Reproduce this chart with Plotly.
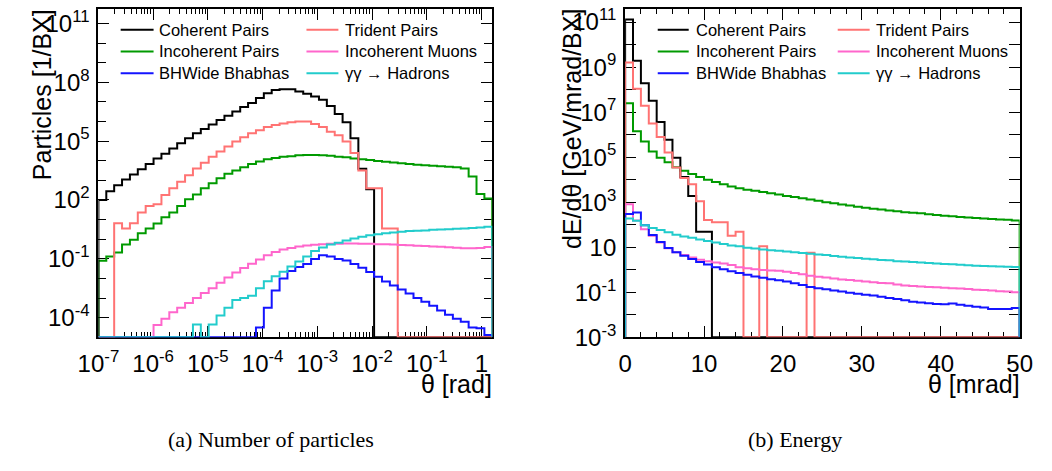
import numpy as np
import plotly.graph_objects as go

# ---------------------------------------------------------------------------
# Binning
# ---------------------------------------------------------------------------
N_BINS = 50
THETA_MIN_RAD = 1e-7
THETA_MAX_RAD = np.pi / 2
THETA_MAX_MRAD = 50.0

edges_rad = np.logspace(np.log10(THETA_MIN_RAD), np.log10(THETA_MAX_RAD), N_BINS + 1)
edges_mrad = np.linspace(0.0, THETA_MAX_MRAD, N_BINS + 1)

# ---------------------------------------------------------------------------
# (a) Number of particles per bunch crossing, per log-theta bin
# ---------------------------------------------------------------------------
n_coherent = [
    1.0e2, 2.8e2, 5.6e2, 1.1e3, 2.0e3, 3.7e3, 6.9e3, 1.3e4, 2.3e4, 4.2e4,
    7.8e4, 1.4e5, 2.5e5, 4.2e5, 7.1e5, 1.2e6, 2.0e6, 3.3e6, 5.5e6, 8.9e6,
    1.6e7, 2.8e7, 4.1e7, 4.5e7, 4.4e7, 3.4e7, 2.6e7, 1.9e7, 1.3e7, 6.2e6,
    2.4e6, 9.3e5, 1.4e5, 3.9e3, 3.5e2, 0, 0, 0, 0, 0,
    0, 0, 0, 0, 0, 0, 0, 0, 0, 0,
]
n_trident = [
    0, 0, 6.6, 3.5, 6.6, 23, 50, 60, 1.8e2, 4.0e2,
    8.5e2, 1.8e3, 4.0e3, 7.9e3, 1.6e4, 3.0e4, 5.4e4, 9.5e4, 1.6e5, 2.5e5,
    3.6e5, 5.2e5, 6.6e5, 7.9e5, 9.3e5, 1.0e6, 1.0e6, 7.6e5, 5.2e5, 3.0e5,
    2.0e5, 9.5e4, 2.5e4, 3.2e3, 4.0e2, 4.0e2, 3.5, 3.5, 0, 0,
    0, 0, 0, 0, 0, 0, 0, 0, 0, 0,
]
n_incoherent = [
    0.079, 0.13, 0.21, 0.54, 0.95, 2.0, 3.5, 6.3, 13, 23,
    50, 1.1e2, 1.9e2, 4.0e2, 7.1e2, 1.3e3, 2.2e3, 3.2e3, 4.7e3, 6.8e3,
    9.3e3, 1.2e4, 1.4e4, 1.6e4, 1.7e4, 1.9e4, 1.95e4, 1.95e4, 1.9e4, 1.8e4,
    1.6e4, 1.5e4, 1.3e4, 1.2e4, 1.1e4, 9.8e3, 8.9e3, 8.1e3, 7.4e3, 6.8e3,
    6.3e3, 5.9e3, 5.6e3, 5.2e3, 5.0e3, 4.7e3, 4.0e3, 1.6e3, 2.0e2, 1.2e2,
]
n_muons = [
    0, 0, 0, 0, 0, 0, 0, 4.2e-5, 8.9e-5, 1.9e-4,
    3.2e-4, 5.6e-4, 1.0e-3, 1.8e-3, 3.2e-3, 6.0e-3, 1.1e-2, 2.0e-2, 3.4e-2, 5.6e-2,
    9.3e-2, 0.15, 0.22, 0.30, 0.36, 0.43, 0.48, 0.52, 0.55, 0.58,
    0.59, 0.60, 0.60, 0.59, 0.58, 0.56, 0.55, 0.54, 0.51, 0.49,
    0.47, 0.45, 0.43, 0.41, 0.39, 0.37, 0.35, 0.35, 0.36, 0.40,
]
n_bhabha = [
    0, 0, 0, 0, 0, 0, 0, 0, 0, 0,
    0, 0, 0, 0, 0, 0, 0, 0, 0, 0,
    3.1e-5, 3.2e-4, 2.4e-3, 1.0e-2, 2.4e-2, 3.8e-2, 5.5e-2, 9.8e-2, 0.15, 0.13,
    9.8e-2, 8.1e-2, 5.5e-2, 3.5e-2, 2.1e-2, 1.2e-2, 6.9e-3, 4.3e-3, 2.7e-3, 1.7e-3,
    1.0e-3, 6.5e-4, 4.1e-4, 2.3e-4, 1.4e-4, 8.9e-5, 6.2e-5, 3.1e-5, 2.9e-5, 1.3e-5,
]
n_hadrons = [
    0, 0, 0, 0, 0, 0, 0, 0, 0, 0,
    0, 0, 4.5e-5, 0, 4.5e-5, 1.3e-4, 3.2e-4, 7.9e-4, 1.0e-3, 1.3e-3,
    3.2e-3, 7.1e-3, 1.3e-2, 2.2e-2, 4.0e-2, 7.4e-2, 0.13, 0.25, 0.38, 0.54,
    0.66, 0.87, 1.1, 1.35, 1.6, 1.8, 2.0, 2.2, 2.4, 2.6,
    2.7, 2.8, 3.0, 3.1, 3.2, 3.4, 3.5, 3.7, 3.9, 4.3,
]

# ---------------------------------------------------------------------------
# (b) Energy deposited per bunch crossing, per 1 mrad bin [GeV/mrad/BX]
# ---------------------------------------------------------------------------
e_coherent = [
    1.3e11, 1.9e9, 1.9e8, 3.2e7, 3.6e6, 5.9e5, 9.5e4, 1.3e4, 1.9e3, 49,
    49, 0, 0, 0, 0, 0, 0, 0, 0, 0,
    0, 0, 0, 0, 0, 0, 0, 0, 0, 0,
    0, 0, 0, 0, 0, 0, 0, 0, 0, 0,
    0, 0, 0, 0, 0, 0, 0, 0, 0, 0,
]
e_trident = [
    1.6e9, 1.1e8, 1.9e7, 3.1e6, 7.9e5, 1.6e5, 3.5e4, 1.2e4, 6.3e3, 1.1e3,
    1.6e2, 1.3e2, 1.3e2, 32, 49, 0, 0, 11, 0, 0,
    0, 0, 0, 5.6, 0, 0, 0, 0, 0, 0,
    0, 0, 0, 0, 0, 0, 0, 0, 0, 0,
    0, 0, 0, 0, 0, 0, 0, 0, 0, 0,
]
e_incoherent = [
    2.5e7, 1.4e6, 5.0e5, 1.8e5, 9.5e4, 5.9e4, 3.6e4, 2.5e4, 1.8e4, 1.3e4,
    1.0e4, 7.9e3, 6.3e3, 5.0e3, 4.2e3, 3.6e3, 3.2e3, 2.8e3, 2.5e3, 2.2e3,
    1.9e3, 1.7e3, 1.5e3, 1.3e3, 1.15e3, 1.0e3, 8.9e2, 7.9e2, 7.1e2, 6.3e2,
    5.6e2, 5.1e2, 4.7e2, 4.3e2, 4.0e2, 3.6e2, 3.4e2, 3.2e2, 2.9e2, 2.7e2,
    2.5e2, 2.4e2, 2.2e2, 2.1e2, 2.0e2, 1.9e2, 1.8e2, 1.7e2, 1.66e2, 1.55e2,
]
e_muons = [
    8.1e2, 1.55e2, 63, 32, 16, 8.9, 6.0, 4.5, 3.5, 2.8,
    2.4, 2.1, 1.9, 1.6, 1.3, 1.15, 1.05, 0.98, 0.93, 0.89,
    0.81, 0.72, 0.63, 0.54, 0.49, 0.45, 0.41, 0.37, 0.35, 0.32,
    0.30, 0.28, 0.26, 0.25, 0.22, 0.20, 0.19, 0.18, 0.17, 0.166,
    0.16, 0.15, 0.145, 0.14, 0.13, 0.126, 0.12, 0.11, 0.107, 0.10,
]
e_bhabha = [
    3.0e2, 3.5e2, 95, 35, 17, 9.3, 5.9, 4.2, 3.0, 2.2,
    1.7, 1.3, 1.05, 0.85, 0.71, 0.59, 0.50, 0.44, 0.38, 0.34,
    0.30, 0.25, 0.21, 0.17, 0.15, 0.135, 0.12, 0.107, 0.095, 0.085,
    0.078, 0.071, 0.063, 0.056, 0.050, 0.044, 0.038, 0.035, 0.032, 0.030,
    0.0295, 0.0316, 0.0275, 0.025, 0.0224, 0.021, 0.018, 0.018, 0.018, 0.020,
]
e_hadrons = [
    1.9e2, 1.5e2, 95, 72, 58, 46, 36, 30, 26, 22,
    19, 16, 14, 12, 11, 9.5, 8.7, 7.9, 7.4, 6.9,
    6.5, 5.9, 5.5, 5.1, 4.8, 4.5, 4.1, 3.8, 3.5, 3.3,
    3.1, 2.9, 2.7, 2.6, 2.4, 2.3, 2.2, 2.1, 2.0, 1.9,
    1.8, 1.74, 1.66, 1.58, 1.51, 1.48, 1.41, 1.38, 1.35, 1.32,
]

# ---------------------------------------------------------------------------
# Series styling / labels
# ---------------------------------------------------------------------------
series_names = [
    "Coherent Pairs", "Incoherent Pairs", "BHWide Bhabhas",
    "Trident Pairs", "Incoherent Muons", "\u03b3\u03b3 \u2192 Hadrons",
]
series_colors = {
    "Coherent Pairs": "#000000",
    "Incoherent Pairs": "#009a00",
    "BHWide Bhabhas": "#1414ff",
    "Trident Pairs": "#ff7373",
    "Incoherent Muons": "#ff66cc",
    "\u03b3\u03b3 \u2192 Hadrons": "#22cccc",
}
counts = dict(zip(series_names, [n_coherent, n_incoherent, n_bhabha, n_trident, n_muons, n_hadrons]))
energies = dict(zip(series_names, [e_coherent, e_incoherent, e_bhabha, e_trident, e_muons, e_hadrons]))

LEFT_Y_RANGE = [-5, 11.75]
RIGHT_Y_RANGE = [-3, 11.59]

W, H = 1052, 471
FONT = "Liberation Sans, Arial, Helvetica, sans-serif"
SERIF = "Liberation Serif, Times New Roman, serif"


def step_path(edges, values, floor):
    """Histogram outline: empty bins sit on the axis floor, outline closes at both ends."""
    ys = [v if v > 0 else floor for v in values]
    xs = [edges[0]] + list(edges[:-1]) + [edges[-1], edges[-1]]
    ys = [floor] + ys + [ys[-1], floor]
    return xs, ys


def px_x(p):
    return p / W


def px_y(p):
    return 1 - p / H


fig = go.Figure()

draw_order = [
    "Incoherent Pairs", "Coherent Pairs", "Trident Pairs",
    "Incoherent Muons", "BHWide Bhabhas", "\u03b3\u03b3 \u2192 Hadrons",
]

for name in draw_order:
    xs, ys = step_path(edges_rad, counts[name], 10 ** LEFT_Y_RANGE[0])
    fig.add_trace(go.Scatter(
        x=xs, y=ys, mode="lines",
        line=dict(color=series_colors[name], width=2, shape="hv"),
        name=name, xaxis="x", yaxis="y", showlegend=False, hoverinfo="skip",
    ))
for name in draw_order:
    xs, ys = step_path(edges_mrad, energies[name], 10 ** RIGHT_Y_RANGE[0])
    fig.add_trace(go.Scatter(
        x=xs, y=ys, mode="lines",
        line=dict(color=series_colors[name], width=2, shape="hv"),
        name=name, xaxis="x2", yaxis="y2", showlegend=False, hoverinfo="skip",
    ))

# ---------------------------------------------------------------------------
# Axes
# ---------------------------------------------------------------------------
tick_font = dict(family=FONT, size=24, color="black")


def sup(e):
    return "10<sup>%d</sup>" % e


common = dict(
    showline=True, linecolor="black", linewidth=2, mirror="ticks",
    ticks="inside", ticklen=11, tickwidth=1, tickcolor="black",
    showgrid=False, zeroline=False, tickfont=tick_font, layer="below traces",
    fixedrange=True,
)

# left x: log theta in rad
lx_major = [10.0 ** e for e in range(-7, 1)]
lx_text = [sup(e) for e in range(-7, 0)] + ["1"]
lx_minor = [m * 10.0 ** e for e in range(-7, 1) for m in range(2, 10)]

# left y: log counts, labels every third decade
ly_major_exp = [-4, -1, 2, 5, 8, 11]
ly_minor = [10.0 ** e for e in range(-5, 12) if e not in ly_major_exp]

# right y: log energy, labels every second decade
ry_major_exp = [-3, -1, 1, 3, 5, 7, 9, 11]
ry_text = [("10" if e == 1 else sup(e)) for e in ry_major_exp]
ry_minor = [10.0 ** e for e in range(-3, 12) if e not in ry_major_exp]

fig.update_layout(
    width=W, height=H, autosize=False,
    margin=dict(l=0, r=0, t=0, b=0),
    paper_bgcolor="white", plot_bgcolor="white",
    font=dict(family=FONT, color="black"),
    showlegend=False,
    xaxis=dict(
        common, type="log", range=[np.log10(THETA_MIN_RAD), np.log10(THETA_MAX_RAD)],
        domain=[px_x(80), px_x(487)], anchor="y",
        tickmode="array", tickvals=lx_major, ticktext=lx_text, ticklabelstandoff=4,
        minor=dict(ticks="inside", ticklen=5, tickwidth=1, tickcolor="black",
                   tickmode="array", tickvals=lx_minor),
    ),
    yaxis=dict(
        common, type="log", range=LEFT_Y_RANGE,
        domain=[px_y(346), px_y(6)], anchor="x",
        tickmode="array", tickvals=[10.0 ** e for e in ly_major_exp],
        ticktext=[sup(e) for e in ly_major_exp], ticklabelstandoff=2,
        minor=dict(ticks="inside", ticklen=8, tickwidth=1, tickcolor="black",
                   tickmode="array", tickvals=ly_minor),
    ),
    xaxis2=dict(
        common, type="linear", range=[0, THETA_MAX_MRAD],
        domain=[px_x(624.3), px_x(1032)], anchor="y2",
        tickmode="array", tickvals=[0, 10, 20, 30, 40, 50], ticklabelstandoff=4,
        minor=dict(ticks="inside", ticklen=5, tickwidth=1, tickcolor="black",
                   tickmode="linear", tick0=0, dtick=2),
    ),
    yaxis2=dict(
        common, type="log", range=RIGHT_Y_RANGE,
        domain=[px_y(346), px_y(6)], anchor="x2",
        tickmode="array", tickvals=[10.0 ** e for e in ry_major_exp],
        ticktext=ry_text, ticklabelstandoff=2,
        minor=dict(ticks="inside", ticklen=11, tickwidth=1, tickcolor="black",
                   tickmode="array", tickvals=ry_minor),
    ),
)

# ---------------------------------------------------------------------------
# Legend boxes: two columns of three entries in each panel
# (key line start, key line end, text start) and row y, in pixels
# ---------------------------------------------------------------------------
legend_font = dict(family=FONT, size=16.5, color="black")
legend_rows = [27.7, 50.2, 72.7]
legend_columns = {
    "left": [(103, 137, 143), (295, 328, 335)],
    "right": [(658, 690, 697), (844, 877, 883)],
}
legend_layout = [
    ["Coherent Pairs", "Incoherent Pairs", "BHWide Bhabhas"],
    ["Trident Pairs", "Incoherent Muons", "\u03b3\u03b3 \u2192 Hadrons"],
]
for panel, cols in legend_columns.items():
    for (x0, x1, xt), names in zip(cols, legend_layout):
        for yrow, name in zip(legend_rows, names):
            fig.add_shape(type="line", xref="paper", yref="paper",
                          x0=px_x(x0), x1=px_x(x1), y0=px_y(yrow), y1=px_y(yrow),
                          line=dict(color=series_colors[name], width=2))
            fig.add_annotation(text=name, xref="paper", yref="paper",
                               x=px_x(xt - 2), y=px_y(yrow), xanchor="left",
                               yanchor="middle", showarrow=False, font=legend_font)

# ---------------------------------------------------------------------------
# Axis titles and sub-captions
# ---------------------------------------------------------------------------
title_font = dict(family=FONT, size=25, color="black")
cap_font = dict(family=SERIF, size=22, color="black")
annots = [
    dict(text="Particles [1/BX]", x=px_x(6), y=px_y(4), textangle=-90,
         xanchor="left", yanchor="top", font=title_font),
    dict(text="\u03b8 [rad]", x=px_x(488), y=px_y(394), xanchor="right",
         yanchor="middle", font=title_font, borderpad=0),
    dict(text="dE/d\u03b8 [GeV/mrad/BX]", x=px_x(553), y=px_y(4), textangle=-90,
         xanchor="left", yanchor="top", font=title_font),
    dict(text="\u03b8 [mrad]", x=px_x(1033), y=px_y(394), xanchor="right",
         yanchor="middle", font=title_font, borderpad=0),
    dict(text="(a) Number of particles", x=px_x(258), y=px_y(452),
         xanchor="center", yanchor="middle", font=cap_font),
    dict(text="(b) Energy", x=px_x(800), y=px_y(452),
         xanchor="center", yanchor="middle", font=cap_font),
]
for a in annots:
    fig.add_annotation(xref="paper", yref="paper", showarrow=False, **a)

fig.write_html("out.html", config={"displayModeBar": False})
